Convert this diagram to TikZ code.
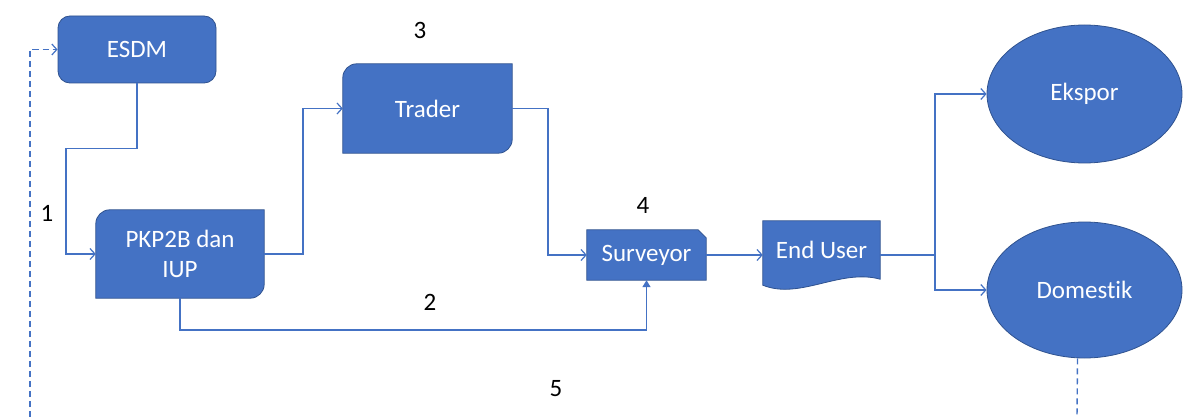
\documentclass[tikz,border=0pt]{standalone}
\usepackage{fontspec}
\setmainfont[Ligatures=NoCommon]{Carlito}
\usetikzlibrary{arrows.meta,backgrounds,shapes.geometric}
\definecolor{ofblue}{HTML}{4472C4}
\definecolor{ofedge}{HTML}{2F528F}
\begin{document}
\begin{tikzpicture}[x=1pt,y=-1pt,
  lbl/.style={text=white,font=\fontsize{25}{30}\selectfont,align=center,inner sep=0pt},
  shapefill/.style={fill=ofblue,draw=ofedge,line width=0.8pt},
  conn/.style={draw=ofblue,line width=1.5pt,-{Straight Barb[length=5pt,width=11pt,line width=1.2pt]}},
  plain/.style={draw=ofblue,line width=1.5pt},
  dashline/.style={draw=ofblue,line width=1.4pt,dash pattern=on 6pt off 4pt},
  num/.style={text=black,font=\fontsize{25}{30}\selectfont,inner sep=0pt}]
\useasboundingbox (0,0) rectangle (1192,417);

% nodes
\node[lbl,shapefill,rounded corners=12pt,minimum width=158pt,minimum height=67pt] (esdm) at (137,49.5) {ESDM};
\node[lbl,minimum width=169pt,minimum height=89pt] (trader) at (427.5,108.5) {Trader};
\node[lbl,minimum width=168pt,minimum height=88pt] (pkp) at (180,254) {PKP2B dan\\IUP};
\node[lbl,minimum width=119pt,minimum height=50pt] (surv) at (646.5,255) {Surveyor};
\node[lbl,minimum width=117pt,minimum height=58pt] (eu) at (821.5,250) {End User};
\node[lbl,shapefill,ellipse,minimum width=195pt,minimum height=138pt] (eks) at (1084.5,94) {Ekspor};
\node[lbl,shapefill,ellipse,minimum width=195pt,minimum height=136pt] (dom) at (1084.5,290) {Domestik};

\begin{scope}[on background layer]
\fill[white] (0,0) rectangle (1192,417);
\filldraw[shapefill] (trader.south west) -- ([yshift=-14pt]trader.north west)
  arc[start angle=180,end angle=90,radius=14pt] -- (trader.north east)
  -- ([yshift=14pt]trader.south east) arc[start angle=0,end angle=-90,radius=14pt] -- cycle;
\filldraw[shapefill] (pkp.south west) -- ([yshift=-14pt]pkp.north west)
  arc[start angle=180,end angle=90,radius=14pt] -- (pkp.north east)
  -- ([yshift=14pt]pkp.south east) arc[start angle=0,end angle=-90,radius=14pt] -- cycle;
\filldraw[shapefill] (surv.south west) -- (surv.north west) -- ([xshift=-8pt]surv.north east)
  -- ([yshift=-8pt]surv.north east) -- (surv.south east) -- cycle;
\filldraw[shapefill] (eu.north west) -- (eu.north east) -- (eu.south east)
  .. controls ([xshift=-40pt,yshift=11pt]eu.south east) and ([xshift=37pt,yshift=-21pt]eu.south west)
  .. ([yshift=-6pt]eu.south west) -- cycle;
\end{scope}

% connectors
\draw[conn] (esdm.south) -- ++(0,65) -- ++(-71,0) |- (pkp.west);
\draw[conn] (pkp.east) -- ++(39,0) |- (trader.west);
\draw[conn] (trader.east) -- ++(36,0) |- (surv.west);
\draw[draw=ofblue,line width=1.5pt,-{Triangle[length=7pt,width=8pt]}] (pkp.south) -- ++(0,32) -| (surv.south);
\draw[conn] (surv.east) -- (surv.east -| eu.west);
\draw[plain] (surv.east -| eu.east) -- ++(55,0) coordinate (j);
\draw[conn] (j) |- (eks.west);
\draw[conn] (j) |- (dom.west);

% dashed feedback
\coordinate (b1) at (1077,417);
\coordinate (b0) at (30,417);
\draw[dashline] ([xshift=-7pt]dom.south) -- (b1);
\draw[dashline,-{Straight Barb[length=5pt,width=11pt,line width=1.2pt]}] (b0) |- (esdm.west);

% numbers
\node[num] (n1) at (47,213) {1};
\node[num] (n2) at (430,302) {2};
\node[num] (n3) at (420,30) {3};
\node[num] (n4) at (643,205) {4};
\node[num] (n5) at (556,389) {5};
\end{tikzpicture}
\end{document}
